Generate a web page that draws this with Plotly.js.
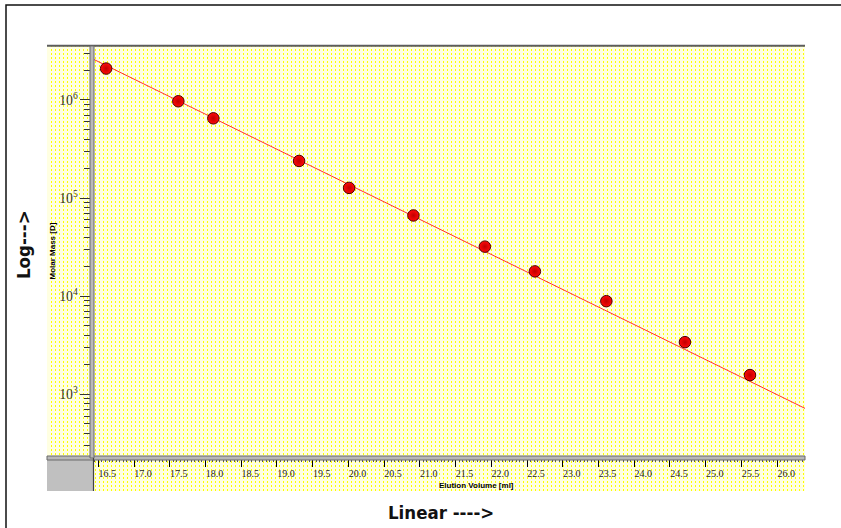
<!DOCTYPE html>
<html>
<head>
<meta charset="utf-8">
<script src="https://cdn.plot.ly/plotly-3.0.1.min.js"></script>
<style>
  html, body { margin: 0; padding: 0; background: #ffffff; }
  #chart { width: 841px; height: 528px; }
</style>
</head>
<body>
<div id="chart"></div>
<script>
// ---- data ----
const elutionVolume = [16.61, 17.62, 18.11, 19.31, 20.01, 20.91, 21.91, 22.61, 23.61, 24.71, 25.62];
const molarMass = [2.09e6, 9.7e5, 6.5e5, 2.39e5, 1.27e5, 6.65e4, 3.2e4, 1.79e4, 8.9e3, 3.4e3, 1.57e3];
const fitVolume = [16.40, 26.40];
const fitMass = [2.67e6, 713];
const xTitle = 'Elution Volume [ml]';
const yTitle = 'Molar Mass [D]';
const xArrow = 'Linear ---->';
const yArrow = 'Log--->';

// ---- helpers to place things in figure pixels ----
const W = 841, H = 528;
const px = v => v / W;
const py = v => (H - v) / H;

const serif = 'Liberation Serif, Times New Roman, serif';
const sans = 'Liberation Sans, Arial, sans-serif';
const narrow = 'DejaVu Sans Condensed, Liberation Sans Narrow, Arial Narrow, sans-serif';

const traces = [
  { x: [], y: [], xaxis: 'x', yaxis: 'y', type: 'scatter', mode: 'markers', hoverinfo: 'skip', showlegend: false },
  { x: fitVolume, y: fitMass, xaxis: 'x2', yaxis: 'y2', type: 'scatter', mode: 'lines',
    line: { color: '#ff3030', width: 1 }, showlegend: false, hoverinfo: 'skip' },
  { x: elutionVolume, y: molarMass, xaxis: 'x2', yaxis: 'y2', type: 'scatter', mode: 'markers',
    marker: { size: 11.5, color: '#ff0a0a', line: { color: '#4a0000', width: 1 },
              gradient: { type: 'radial', color: '#c00000' } },
    showlegend: false }
];

const layout = {
  width: W, height: H,
  margin: { l: 0, r: 0, t: 0, b: 0 },
  paper_bgcolor: '#ffffff',
  plot_bgcolor: 'rgba(0,0,0,0)',
  showlegend: false,
  // background dotted pattern subplot
  xaxis: { domain: [px(47), px(805)], range: [0, 758], anchor: 'y', dtick: 4, tick0: 0,
           showgrid: true, gridcolor: 'rgb(255,255,0)', griddash: '2px,2px', gridwidth: 1,
           showticklabels: false, ticks: '', zeroline: false, showline: false, fixedrange: true },
  yaxis: { domain: [py(491), py(45)], range: [0, 446], anchor: 'x',
           showgrid: false, showticklabels: false, ticks: '', zeroline: false, showline: false, fixedrange: true },
  // main data subplot
  xaxis2: { domain: [px(93), px(805)], range: [16.426, 26.39], anchor: 'y2',
            dtick: 0.5, tick0: 0, ticks: 'outside', ticklen: 9, tickwidth: 1, tickcolor: '#000000',
            tickformat: '.1f', ticklabelshift: 9, ticklabelstandoff: -2,
            tickfont: { family: serif, size: 10, color: '#222222' },
            minor: { dtick: 0.05, ticks: 'outside', ticklen: 4, tickcolor: '#555555', showgrid: false },
            showgrid: false, zeroline: false, showline: false },
  yaxis2: { domain: [py(457), py(46)], type: 'log', range: [2.361, 6.55], anchor: 'x2',
            dtick: 1, exponentformat: 'power', showexponent: 'all',
            ticks: 'outside', ticklen: 12, tickwidth: 1, tickcolor: '#333333',
            tickfont: { family: serif, size: 11, color: '#333333' },
            minor: { dtick: 'D1', ticks: 'outside', ticklen: 8, tickcolor: '#333333', showgrid: false },
            showgrid: false, zeroline: false, showline: false },
  shapes: [
    // pale tint under the dot pattern
    { type: 'rect', xref: 'paper', yref: 'paper', x0: px(47), x1: px(805), y0: py(491), y1: py(45),
      fillcolor: '#ffffe2', line: { width: 0 }, layer: 'below' },
    // outer frame (only left and top visible in the picture)
    { type: 'rect', xref: 'paper', yref: 'paper', x0: px(6), x1: px(850), y0: py(540), y1: py(5),
      line: { color: '#111111', width: 1.5 }, fillcolor: 'rgba(0,0,0,0)', layer: 'below' },
    // top dark border of chart area
    { type: 'line', xref: 'paper', yref: 'paper', x0: px(47), x1: px(805), y0: py(45.8), y1: py(45.8),
      line: { color: '#5c5c5c', width: 2 }, layer: 'above' },
    // grey corner box
    { type: 'rect', xref: 'paper', yref: 'paper', x0: px(47), x1: px(93), y0: py(491), y1: py(458),
      fillcolor: '#c0c0c0', line: { width: 0 }, layer: 'above' },
    // horizontal axis bar
    { type: 'rect', xref: 'paper', yref: 'paper', x0: px(47), x1: px(805), y0: py(460), y1: py(456),
      fillcolor: '#b8b8b8', line: { color: '#6a6a6a', width: 1 }, layer: 'above' },
    // vertical axis bar
    { type: 'rect', xref: 'paper', yref: 'paper', x0: px(90), x1: px(94), y0: py(458), y1: py(46),
      fillcolor: '#b8b8b8', line: { color: '#6a6a6a', width: 1 }, layer: 'above' },
    // thin line down through the x tick region
    { type: 'line', xref: 'paper', yref: 'paper', x0: px(93.5), x1: px(93.5), y0: py(491), y1: py(458),
      line: { color: '#444444', width: 1.2 }, layer: 'above' }
  ],
  annotations: [
    { text: '<b>' + yTitle + '</b>', xref: 'paper', yref: 'paper', x: px(52.5), y: py(251),
      textangle: -90, showarrow: false, xanchor: 'center', yanchor: 'middle',
      font: { family: sans, size: 8, color: '#000000' } },
    { text: '<b>' + xTitle + '</b>', xref: 'paper', yref: 'paper', x: px(477), y: py(485),
      showarrow: false, xanchor: 'center', yanchor: 'middle',
      font: { family: sans, size: 8, color: '#000000' } },
    { text: '<b>' + yArrow + '</b>', xref: 'paper', yref: 'paper', x: px(23), y: py(245),
      textangle: -90, showarrow: false, xanchor: 'center', yanchor: 'middle',
      font: { family: narrow, size: 18.5, color: '#111111' } },
    { text: '<b>' + xArrow + '</b>', xref: 'paper', yref: 'paper', x: px(441), y: py(512),
      showarrow: false, xanchor: 'center', yanchor: 'middle',
      font: { family: narrow, size: 18.5, color: '#111111' } }
  ]
};

Plotly.newPlot('chart', traces, layout, { staticPlot: true, displayModeBar: false });
</script>
</body>
</html>
